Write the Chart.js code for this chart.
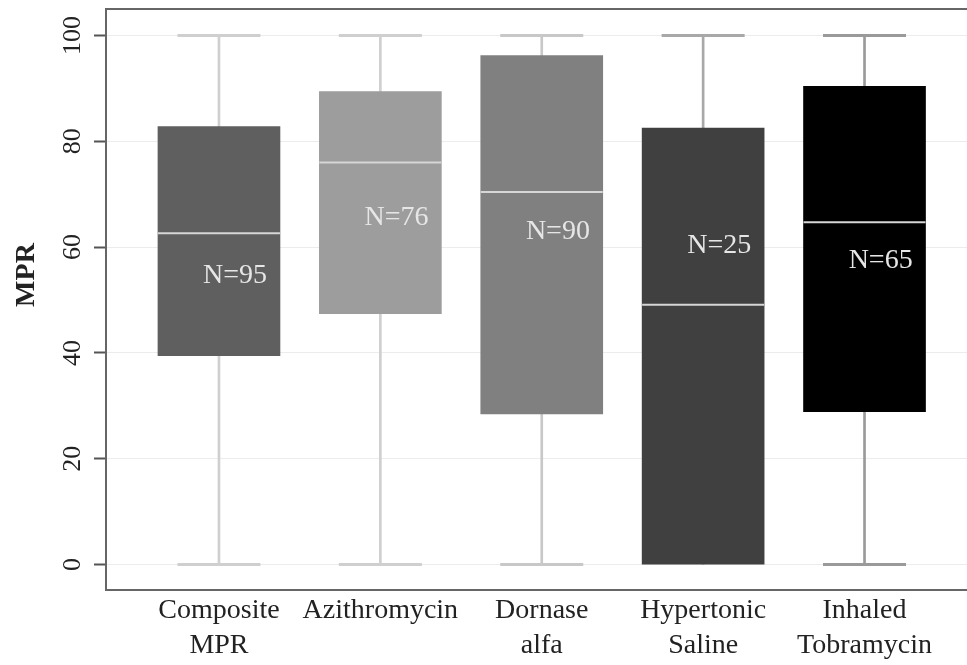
<!DOCTYPE html>
<html>
<head>
<meta charset="utf-8">
<script src="https://cdn.jsdelivr.net/npm/chart.js@4.4.0/dist/chart.umd.min.js"></script>
<style>
  html, body { margin: 0; padding: 0; background: #fff; }
</style>
</head>
<body>
<canvas id="box" width="967" height="665"></canvas>

<script>
// data
var categories = [['Composite', 'MPR'], 'Azithromycin', ['Dornase', 'alfa'], ['Hypertonic', 'Saline'], ['Inhaled', 'Tobramycin']];
var whiskerLow  = [0, 0, 0, 0, 0];
var q1          = [39.5, 47.4, 28.5, 0, 28.9];
var median      = [62.6, 76.0, 70.4, 49.1, 64.7];
var q3          = [82.8, 89.4, 96.2, 82.5, 90.4];
var whiskerHigh = [100, 100, 100, 100, 100];
var nLabels = ['N=95', 'N=76', 'N=90', 'N=25', 'N=65'];
var nLabelY = [54.7, 65.6, 63.0, 60.2, 57.4];
var yTicks = [0, 20, 40, 60, 80, 100];

var boxColors = ['#5f5f5f', '#9d9d9d', '#808080', '#404040', '#000000'];
var whiskerColors = ['#cfcfcf', '#cfcfcf', '#c8c8c8', '#a8a8a8', '#9a9a9a'];
var serif = "'Liberation Serif', 'DejaVu Serif', serif";

function pts(vals) {
    return vals.map(function (v, i) { return {x: i, y: v}; });
}
function ranges(lo, hi) {
    return lo.map(function (v, i) { return {x: i, y: [v, hi[i]]}; });
}
function noPad(scale) {
    scale.paddingLeft = scale.paddingRight = scale.paddingTop = scale.paddingBottom = 0;
}

var capData = pts(whiskerLow).concat(pts(whiskerHigh)).filter(function (p) {
    // no lower cap where the box already reaches the whisker end
    return !(p.y === whiskerLow[p.x] && q1[p.x] <= whiskerLow[p.x]);
});
var capColors = capData.map(function (p) { return whiskerColors[p.x]; });

var extras = {
    id: 'extras',
    afterDraw: function (chart) {
        var ctx = chart.ctx, a = chart.chartArea;
        var xs = chart.scales.x, ys = chart.scales.y;
        ctx.save();
        // frame top + left
        ctx.strokeStyle = '#666';
        ctx.lineWidth = 2;
        ctx.beginPath();
        ctx.moveTo(a.right, a.top);
        ctx.lineTo(a.left, a.top);
        ctx.lineTo(a.left, a.bottom);
        ctx.stroke();

        // y tick labels, rotated
        ctx.fillStyle = '#222';
        ctx.font = '26px ' + serif;
        ctx.textAlign = 'center';
        ctx.textBaseline = 'alphabetic';
        yTicks.forEach(function (t) {
            ctx.save();
            ctx.translate(80, ys.getPixelForValue(t));
            ctx.rotate(-Math.PI / 2);
            ctx.fillText(String(t), 0, 0);
            ctx.restore();
        });

        // y title
        ctx.save();
        ctx.font = 'bold 28px ' + serif;
        ctx.translate(34, 275);
        ctx.rotate(-Math.PI / 2);
        ctx.fillText('MPR', 0, 0);
        ctx.restore();

        // N labels
        ctx.fillStyle = '#e6e6e6';
        ctx.font = '28px ' + serif;
        ctx.textBaseline = 'middle';
        nLabels.forEach(function (s, i) {
            ctx.fillText(s, xs.getPixelForValue(i + 0.1), ys.getPixelForValue(nLabelY[i]));
        });
        ctx.restore();
    }
};

new Chart(document.getElementById('box').getContext('2d'), {
    type: 'bar',
    data: {
        datasets: [{
            label: 'box',
            data: ranges(q1, q3),
            backgroundColor: boxColors,
            borderWidth: 0,
            barThickness: 122,
            grouped: false,
            order: 1
        }, {
            label: 'median',
            type: 'scatter',
            data: pts(median),
            pointStyle: 'line',
            pointRadius: 61,
            pointBorderWidth: 2,
            pointBorderColor: '#d6d6d6',
            order: 0
        }, {
            label: 'whisker',
            data: ranges(whiskerLow, whiskerHigh),
            backgroundColor: whiskerColors,
            borderWidth: 0,
            barThickness: 2,
            grouped: false,
            order: 3
        }, {
            label: 'cap',
            type: 'scatter',
            data: capData,
            pointStyle: 'line',
            pointRadius: 41.5,
            pointBorderWidth: 3,
            pointBorderColor: capColors,
            order: 2
        }]
    },
    options: {
        responsive: false,
        animation: false,
        devicePixelRatio: 1,
        layout: { autoPadding: false, padding: { top: 9, right: 0, left: 0, bottom: 0 } },
        plugins: {
            legend: { display: false },
            tooltip: { enabled: false }
        },
        scales: {
            x: {
                type: 'linear',
                offset: false,
                min: -0.7,
                max: 4.635,
                afterBuildTicks: function (scale) {
                    scale.ticks = categories.map(function (c, i) { return {value: i}; });
                },
                afterFit: function (scale) { scale.height = 75; noPad(scale); },
                grid: { display: false, drawTicks: false },
                border: { display: true, color: '#666', width: 2 },
                ticks: {
                    padding: 3,
                    color: '#222',
                    maxRotation: 0,
                    autoSkip: false,
                    font: { family: serif, size: 28, lineHeight: 1.25 },
                    callback: function (v) { return categories[v]; }
                }
            },
            y: {
                min: -4.8,
                max: 105,
                afterBuildTicks: function (scale) {
                    scale.ticks = yTicks.map(function (t) { return {value: t}; });
                },
                afterFit: function (scale) { scale.width = 106; noPad(scale); },
                grid: {
                    color: '#ececec',
                    lineWidth: 1,
                    tickLength: 12,
                    tickColor: '#555',
                    tickWidth: 2
                },
                border: { display: true, color: '#666', width: 2 },
                ticks: { display: false }
            }
        }
    },
    plugins: [extras]
});
</script>
</body>
</html>
